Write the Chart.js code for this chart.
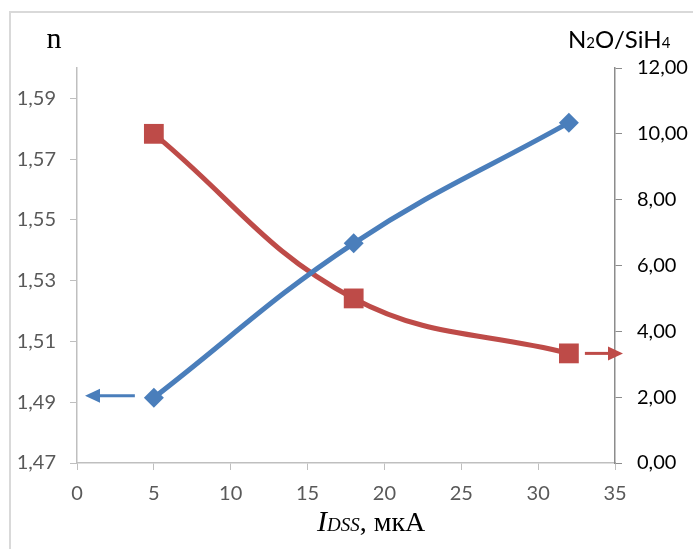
<!DOCTYPE html>
<html>
<head>
<meta charset="utf-8">
<script src="https://cdn.jsdelivr.net/npm/chart.js@4.4.0/dist/chart.umd.min.js"></script>
<style>
html, body { margin: 0; padding: 0; background: #fff; }
#wrap { width: 693px; height: 549px; }
</style>
</head>
<body>
<div id="wrap"><canvas id="chart" width="693" height="549"></canvas></div>
<script>
// values
const currents = [5, 18, 32];            // I_DSS, мкА
const nValues = [1.4915, 1.5423, 1.582]; // refractive index n (left axis)
const gasRatio = [10.0, 5.0, 3.33];      // N2O/SiH4 (right axis)

const xTicks = [0, 5, 10, 15, 20, 25, 30, 35];
const nTicks = [1.47, 1.49, 1.51, 1.53, 1.55, 1.57, 1.59];
const ratioTicks = [0, 2, 4, 6, 8, 10, 12];

const BLUE = "#4a7ebb";
const RED = "#be4b48";
const TICK_FONT = { family: "Lato", size: 20 };

const fmt = v => v.toFixed(2).replace(".", ",");

function hArrow(ctx, x1, y, x2, color) {
  const dir = x2 > x1 ? 1 : -1;
  const head = 15;
  ctx.save();
  ctx.strokeStyle = color;
  ctx.fillStyle = color;
  ctx.lineWidth = 3;
  ctx.beginPath();
  ctx.moveTo(x1, y);
  ctx.lineTo(x2 - dir * head, y);
  ctx.stroke();
  ctx.beginPath();
  ctx.moveTo(x2, y);
  ctx.lineTo(x2 - dir * head, y - 7);
  ctx.lineTo(x2 - dir * head, y + 7);
  ctx.closePath();
  ctx.fill();
  ctx.restore();
}

const extras = {
  id: "extras",
  beforeDraw(chart) {
    const ctx = chart.ctx;
    ctx.save();
    ctx.fillStyle = "#fff";
    ctx.fillRect(0, 0, chart.width, chart.height);
    ctx.strokeStyle = "#d9d9d9";
    ctx.lineWidth = 2;
    ctx.strokeRect(10, 12, chart.width + 20, chart.height + 20);
    ctx.restore();
  },
  afterDatasetsDraw(chart) {
    const ctx = chart.ctx;
    const { x, y, y2 } = chart.scales;
    const a = chart.chartArea;
    // arrows pointing to the axis each curve belongs to
    hArrow(ctx, x.getPixelForValue(currents[0]) - 19, y.getPixelForValue(nValues[0]) - 2, a.left + 8, BLUE);
    hArrow(ctx, x.getPixelForValue(currents[2]) + 16, y2.getPixelForValue(gasRatio[2]), a.right + 8, RED);
  },
  afterDraw(chart) {
    const ctx = chart.ctx;
    ctx.save();
    ctx.fillStyle = "#000";
    ctx.textBaseline = "alphabetic";

    // left axis title
    ctx.font = "30px 'Liberation Serif'";
    ctx.textAlign = "center";
    ctx.fillText("n", 54, 48);

    // right axis title N2O/SiH4
    ctx.textAlign = "left";
    let px = 568;
    const parts = [["N", 24], ["2", 15], ["O/SiH", 24], ["4", 15]];
    parts.forEach(([t, s]) => {
      ctx.font = s + "px Lato";
      ctx.fillText(t, px, 48);
      px += ctx.measureText(t).width;
    });

    // x axis title
    px = 317;
    const xparts = [["I", "italic 30px 'Liberation Serif'"], ["DSS", "italic 19px 'Liberation Serif'"], [", мкА", "28px 'Liberation Serif'"]];
    xparts.forEach(([t, f]) => {
      ctx.font = f;
      ctx.fillText(t, px, 531);
      px += ctx.measureText(t).width;
    });
    ctx.restore();
  }
};

new Chart(document.getElementById("chart"), {
  type: "line",
  data: {
    datasets: [
      {
        label: "n",
        yAxisID: "y",
        data: currents.map((c, i) => ({ x: c, y: nValues[i] })),
        borderColor: BLUE,
        backgroundColor: BLUE,
        borderWidth: 5,
        tension: 0.4,
        pointStyle: "rectRot",
        pointRadius: 10,
        pointBorderWidth: 0,
        pointBackgroundColor: BLUE
      },
      {
        label: "N2O/SiH4",
        yAxisID: "y2",
        data: currents.map((c, i) => ({ x: c, y: gasRatio[i] })),
        borderColor: RED,
        backgroundColor: RED,
        borderWidth: 5,
        tension: 0.4,
        pointStyle: "rect",
        pointRadius: 14,
        pointBorderWidth: 0,
        pointBackgroundColor: RED
      }
    ]
  },
  options: {
    responsive: false,
    animation: false,
    layout: { padding: { top: 68, left: 0, right: 0, bottom: 0 } },
    plugins: { legend: { display: false }, tooltip: { enabled: false } },
    scales: {
      x: {
        type: "linear",
        min: 0,
        max: 35,
        afterBuildTicks: s => { s.ticks = xTicks.map(v => ({ value: v })); },
        afterFit: s => { s.height = 86; },
        grid: { drawOnChartArea: false, tickLength: 7, color: "#bfbfbf" },
        border: { color: "#bfbfbf", width: 1.5 },
        ticks: { color: "#595959", font: TICK_FONT, padding: 12, maxRotation: 0 }
      },
      y: {
        position: "left",
        min: 1.47,
        max: 1.60,
        afterBuildTicks: s => { s.ticks = nTicks.map(v => ({ value: v })); },
        afterFit: s => { s.width = 77; },
        grid: { drawOnChartArea: false, tickLength: 7, color: "#bfbfbf" },
        border: { color: "#bfbfbf", width: 1.5 },
        ticks: { color: "#595959", font: TICK_FONT, padding: 14, callback: v => fmt(v) }
      },
      y2: {
        position: "right",
        min: 0,
        max: 12,
        afterBuildTicks: s => { s.ticks = ratioTicks.map(v => ({ value: v })); },
        afterFit: s => { s.width = 78; },
        grid: { drawOnChartArea: false, tickLength: 7, color: "#8c8c8c" },
        border: { color: "#8c8c8c", width: 1.5 },
        ticks: { color: "#000", font: TICK_FONT, padding: 15, callback: v => fmt(v) }
      }
    }
  },
  plugins: [extras]
});
</script>
</body>
</html>
